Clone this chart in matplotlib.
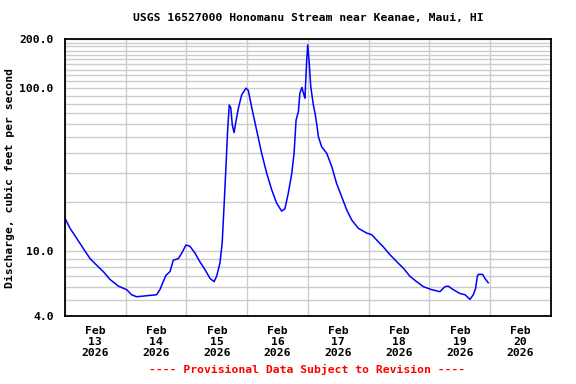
"""
USGS 16527000 Honomanu Stream near Keanae, Maui, HI
Discharge hydrograph, Feb 13 - Feb 20 2026 (provisional)
"""

import matplotlib
matplotlib.use("Agg")
import matplotlib.pyplot as plt
from matplotlib.ticker import FixedLocator, NullFormatter

# hours since Feb 13 2026 00:00
hours = [0, 2, 4.6, 7.2, 9.9, 12.5, 15.1, 17.8, 21.1, 24.4, 26.3, 28.3,
         36.2, 37.5, 38.8, 39.9, 41.5, 42.8, 44.8, 46.1, 47.8, 49.4, 51.4,
         53.3, 55.3, 57.3, 58.9, 59.9, 61.2, 62.1, 62.9, 63.6, 64.3, 64.9,
         65.5, 66.1, 66.8, 67.4, 68.5, 69.8, 71.5, 72.4, 73.8, 75.7, 77.7,
         79.7, 81.7, 83.6, 85.6, 86.9, 88.2, 89.6, 90.5, 91.3, 92.2, 92.8,
         93.6, 94.4, 94.8, 95.5, 95.9, 96.4, 97.1, 98.1, 98.8, 99.5, 100.1,
         101.4, 103.4, 105.4, 107.3, 109.3, 111.3, 113.3, 115.9, 119.2,
         121.2, 123.8, 125.8, 128.4, 131.1, 133.7, 136.3, 138.9, 141.6,
         144.9, 148.1, 150.1, 151.4, 153.4, 156.0, 158.0, 160.0, 161.3,
         162.2, 162.9, 163.3, 165.0, 165.9, 167.2]

# discharge, cubic feet per second
flow = [15.9, 13.8, 12.0, 10.4, 9.0, 8.2, 7.5, 6.7, 6.1, 5.8, 5.4, 5.25,
        5.4, 5.8, 6.5, 7.1, 7.5, 8.8, 9.0, 9.7, 10.9, 10.7, 9.7,
        8.6, 7.7, 6.8, 6.5, 7.0, 8.4, 11.2, 19.7, 33, 56.7, 78.8,
        75.7, 59.4, 53.3, 60.8, 75.2, 90.8, 99.8, 97, 75.7, 55.3, 39.8,
        30, 23.7, 19.7, 17.6, 18.2, 22.6, 30, 39.8, 63.7, 71.6, 93,
        101, 90.8, 86.7, 149, 184, 149, 102, 79, 70, 59.4, 50.4,
        43.7, 39.8, 33, 26, 21.6, 17.9, 15.5, 13.8, 12.9,
        12.6, 11.4, 10.6, 9.5, 8.6, 7.85, 7.0, 6.5, 6.05,
        5.8, 5.64, 6.05, 6.1, 5.8, 5.5, 5.4, 5.06, 5.4,
        5.9, 7.0, 7.2, 7.2, 6.8, 6.4]

day_labels = ["Feb\n%d\n2026" % d for d in range(13, 21)]
y_major = [4, 10, 100, 200]
y_minor = [5, 6, 7, 8, 9, 20, 30, 40, 50, 60, 70, 80, 90,
           110, 120, 130, 140, 150, 160, 170, 180, 190]

FONT = dict(family="DejaVu Sans Mono", fontweight="bold", fontsize=8.2)
GRID = "#cccccc"

fig = plt.figure(figsize=(5.76, 3.84), dpi=100)
ax = fig.add_axes([0.1128, 0.1771, 0.8438, 0.7213])

ax.plot(hours, flow, color="#0000ff", linewidth=1.1, zorder=3)

ax.set_yscale("log")
ax.set_ylim(4, 200)
ax.set_xlim(0, 192)

# y grid: every unit / ten / hundred step, labels only on a few
ax.yaxis.set_major_locator(FixedLocator(y_major))
ax.yaxis.set_minor_locator(FixedLocator(y_minor))
ax.yaxis.set_minor_formatter(NullFormatter())
ax.set_yticklabels(["%.1f" % v for v in y_major], **FONT)

# x grid at midnight, labels centred under each day
ax.xaxis.set_major_locator(FixedLocator(range(0, 193, 24)))
ax.xaxis.set_major_formatter(NullFormatter())
ax.xaxis.set_minor_locator(FixedLocator([12 + 24 * i for i in range(8)]))
ax.set_xticklabels(day_labels, minor=True, linespacing=1.15, **FONT)

ax.grid(True, axis="y", which="both", color=GRID, linewidth=1.0, zorder=0)
ax.grid(True, axis="x", which="major", color=GRID, linewidth=1.0, zorder=0)
ax.tick_params(which="both", length=0)
ax.tick_params(axis="y", pad=8)
ax.tick_params(axis="x", which="minor", pad=7)
for s in ax.spines.values():
    s.set_linewidth(1.3)
    s.set_zorder(4)

ax.set_title("USGS 16527000 Honomanu Stream near Keanae, Maui, HI",
             pad=13, **FONT)
ax.set_ylabel("Discharge, cubic feet per second", labelpad=3, **FONT)

fig.text(0.533, 0.023, "---- Provisional Data Subject to Revision ----",
         color="#ff0000", ha="center", va="bottom", **FONT)

fig.savefig("out.png", dpi=100)
